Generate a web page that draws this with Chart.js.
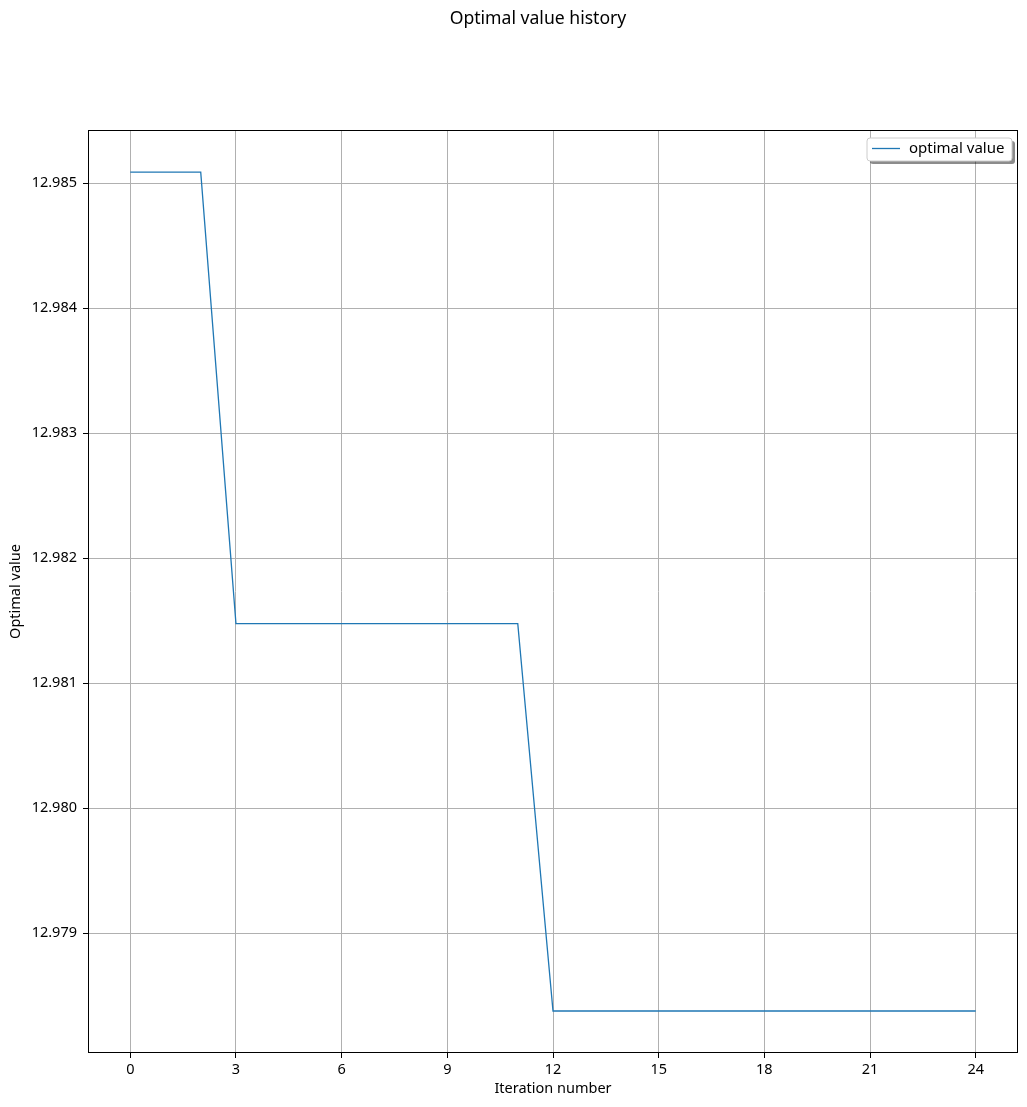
<!DOCTYPE html>
<html>
<head>
<meta charset="utf-8">
<script src="https://cdn.jsdelivr.net/npm/chart.js@4.4.0/dist/chart.umd.min.js"></script>
<style>
html,body{margin:0;padding:0;background:#fff;}
#wrap{width:1027px;height:1107px;position:relative;}
</style>
</head>
<body>
<div id="wrap"><canvas id="c"></canvas></div>
<script>
const iterations = [0,1,2,3,4,5,6,7,8,9,10,11,12,13,14,15,16,17,18,19,20,21,22,23,24];
const optimalValues = [
  12.98509,12.98509,12.98509,
  12.981477,12.981477,12.981477,12.981477,12.981477,12.981477,12.981477,12.981477,12.981477,
  12.978377,12.978377,12.978377,12.978377,12.978377,12.978377,12.978377,12.978377,12.978377,12.978377,12.978377,12.978377,12.978377
];
const xTicks = [0,3,6,9,12,15,18,21,24];
const yTicks = [12.979,12.980,12.981,12.982,12.983,12.984,12.985];
const seriesLabel = 'optimal value';
const chartTitle = 'Optimal value history';
const xTitle = 'Iteration number';
const yTitle = 'Optimal value';

const FONT = 'Noto Sans';
const FS = 14.5;
Chart.defaults.font.family = FONT;
Chart.defaults.color = '#000';

const frameLegendTitle = {
  id: 'frameLegendTitle',
  afterDraw(chart) {
    const {ctx, chartArea: a} = chart;
    ctx.save();
    // figure title
    ctx.fillStyle = '#000';
    ctx.font = '17.6px "' + FONT + '"';
    ctx.textAlign = 'center';
    ctx.textBaseline = 'alphabetic';
    ctx.fillText(chartTitle, 538, 24);
    // axes frame
    ctx.strokeStyle = '#000';
    ctx.lineWidth = 1;
    ctx.strokeRect(Math.round(a.left) + 0.5, Math.round(a.top) + 0.5, Math.round(a.right - a.left) - 1, Math.round(a.bottom - a.top) - 1);
    // legend
    const ds = chart.data.datasets[0];
    const bx = a.right - 151, by = a.top + 8, bw = 145, bh = 23;
    const r = 3;
    function rr(x, y, w, h) {
      ctx.beginPath();
      ctx.moveTo(x + r, y);
      ctx.lineTo(x + w - r, y);
      ctx.quadraticCurveTo(x + w, y, x + w, y + r);
      ctx.lineTo(x + w, y + h - r);
      ctx.quadraticCurveTo(x + w, y + h, x + w - r, y + h);
      ctx.lineTo(x + r, y + h);
      ctx.quadraticCurveTo(x, y + h, x, y + h - r);
      ctx.lineTo(x, y + r);
      ctx.quadraticCurveTo(x, y, x + r, y);
      ctx.closePath();
    }
    rr(bx + 3, by + 3, bw, bh);
    ctx.fillStyle = 'rgba(0,0,0,0.45)';
    ctx.fill();
    rr(bx, by, bw, bh);
    ctx.fillStyle = '#fff';
    ctx.fill();
    ctx.strokeStyle = '#cccccc';
    ctx.lineWidth = 1;
    ctx.stroke();
    ctx.strokeStyle = ds.borderColor;
    ctx.lineWidth = 1.3;
    ctx.beginPath();
    ctx.moveTo(bx + 5, by + 10.5);
    ctx.lineTo(bx + 33, by + 10.5);
    ctx.stroke();
    ctx.fillStyle = '#000';
    ctx.font = '15px "' + FONT + '"';
    ctx.textBaseline = 'middle';
    ctx.textAlign = 'left';
    ctx.fillText(ds.label, bx + 42, by + 11);
    ctx.restore();
  }
};

new Chart(document.getElementById('c'), {
  type: 'line',
  data: {
    datasets: [{
      label: seriesLabel,
      data: iterations.map((x, i) => ({x: x, y: optimalValues[i]})),
      borderColor: '#1f77b4',
      borderWidth: 1.3,
      pointRadius: 0,
      tension: 0,
      fill: false
    }]
  },
  options: {
    responsive: true,
    maintainAspectRatio: false,
    animation: false,
    layout: {padding: {left: 0, right: 9, top: 130, bottom: 0}},
    plugins: {
      legend: {display: false},
      tooltip: {enabled: false},
      title: {display: false}
    },
    scales: {
      x: {
        type: 'linear',
        min: -1.2,
        max: 25.2,
        afterBuildTicks(s) { s.ticks = xTicks.map(v => ({value: v})); },
        afterFit(s) { s.height = 54; },
        ticks: {
          font: {family: FONT, size: FS},
          color: '#000',
          padding: 3,
          maxRotation: 0,
          callback: v => String(v)
        },
        grid: {color: '#b0b0b0', lineWidth: 1, tickLength: 5, tickColor: '#000', drawTicks: true},
        border: {display: false},
        title: {display: true, text: xTitle, color: '#000', font: {family: FONT, size: FS}, padding: {top: 9, bottom: 9}}
      },
      y: {
        type: 'linear',
        min: 12.978041,
        max: 12.985427,
        afterBuildTicks(s) { s.ticks = yTicks.map(v => ({value: v})); },
        afterFit(s) { s.width = 88; },
        ticks: {
          font: {family: FONT, size: FS},
          color: '#000',
          padding: 6,
          callback: v => Number(v).toFixed(3)
        },
        grid: {color: '#b0b0b0', lineWidth: 1, tickLength: 5, tickColor: '#000', drawTicks: true},
        border: {display: false},
        title: {display: true, text: yTitle, color: '#000', font: {family: FONT, size: FS}, padding: {top: 7, bottom: 7}}
      }
    }
  },
  plugins: [frameLegendTitle]
});
</script>
</body>
</html>
